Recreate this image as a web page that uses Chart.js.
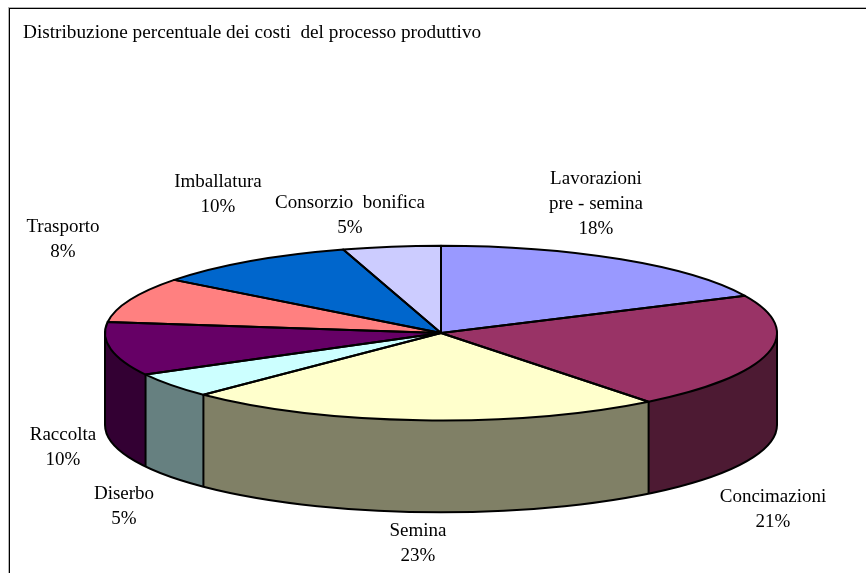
<!DOCTYPE html>
<html>
<head>
<meta charset="utf-8">
<style>html,body{margin:0;padding:0;background:#fff}canvas{display:block}</style>
<script src="https://cdn.jsdelivr.net/npm/chart.js@4"></script>
</head>
<body>
<canvas id="c" width="866" height="573"></canvas>
<script>
const chartTitle = "Distribuzione percentuale dei costi  del processo produttivo";
const categories = ["Lavorazioni\npre - semina", "Concimazioni", "Semina", "Diserbo", "Raccolta", "Trasporto", "Imballatura", "Consorzio  bonifica"];
const costShare = [18.0, 21.4, 23.1, 4.6, 9.9, 8.4, 9.9, 4.7];
const topColors = ["#9999FF", "#993366", "#FFFFCC", "#CCFFFF", "#660066", "#FF8080", "#0066CC", "#CCCCFF"];
const sideColors = ["#4D4D80", "#4D1A33", "#808066", "#668080", "#330033", "#804040", "#003366", "#666680"];

/* layout of the 3D projection and of the label blocks (centre x, first line y) */
const view = { cx: 441, cy: 333, rx: 336, squash: 0.26, depth: 92 };
const labelAnchors = [[596, 179], [773, 497], [418, 531], [124, 494], [63, 435], [63, 227], [218, 182], [350, 203]];
const LINE = 25;
const FONT = '19px "Liberation Serif"';
const TITLE_FONT = '19.25px "Liberation Serif"';

const total = costShare.reduce((a, b) => a + b, 0);

function project(ctx, el) {
  ctx.translate(view.cx, view.cy);
  ctx.scale(1, view.squash);
  ctx.translate(-el.x, -el.y);
}

const pie3d = {
  id: 'pie3d',
  beforeDraw(chart) {
    const { ctx, width, height } = chart;
    ctx.save();
    ctx.fillStyle = '#fff';
    ctx.fillRect(0, 0, width, height);
    ctx.fillStyle = '#b4b4b4';
    ctx.fillRect(8, 7, width - 8, 1);
    ctx.fillRect(8, 7, 1, height - 7);
    ctx.fillStyle = '#000';
    ctx.fillRect(9, 8, width - 9, 1);
    ctx.fillRect(9, 8, 1, height - 8);
    ctx.restore();
  },
  beforeDatasetsDraw(chart) {
    const { ctx } = chart;
    const arcs = chart.getDatasetMeta(0).data;
    const { cx, cy, rx, squash, depth } = view;
    const ry = rx * squash;
    // front wall of each slice, from the slice angles the library computed
    arcs.forEach((el, i) => {
      const a0 = Math.max(el.startAngle, 0), a1 = Math.min(el.endAngle, Math.PI);
      if (a1 <= a0) return;
      ctx.beginPath();
      ctx.ellipse(cx, cy, rx, ry, 0, a0, a1);
      ctx.ellipse(cx, cy + depth, rx, ry, 0, a1, a0, true);
      ctx.closePath();
      ctx.fillStyle = sideColors[i];
      ctx.fill();
    });
    ctx.save();
    project(ctx, arcs[0]);
  },
  afterDatasetsDraw(chart) {
    const { ctx } = chart;
    ctx.restore();
    const arcs = chart.getDatasetMeta(0).data;
    const { cx, cy, rx, squash, depth } = view;
    const ry = rx * squash;
    ctx.save();
    ctx.strokeStyle = '#000';
    ctx.lineWidth = 2;
    ctx.lineJoin = 'round';
    // side edges
    const wrap = a => Math.atan2(Math.sin(a), Math.cos(a));
    arcs.forEach(el => {
      const a = wrap(el.startAngle);
      if (a > 0 && a < Math.PI) {
        const x = cx + rx * Math.cos(a), y = cy + ry * Math.sin(a);
        ctx.beginPath(); ctx.moveTo(x, y); ctx.lineTo(x, y + depth); ctx.stroke();
      }
    });
    ctx.beginPath();
    ctx.moveTo(cx + rx, cy); ctx.lineTo(cx + rx, cy + depth);
    ctx.moveTo(cx - rx, cy); ctx.lineTo(cx - rx, cy + depth);
    ctx.stroke();
    ctx.beginPath();
    ctx.ellipse(cx, cy + depth, rx, ry, 0, 0, Math.PI);
    ctx.stroke();
    // top face outlines
    arcs.forEach(el => {
      ctx.beginPath();
      ctx.moveTo(cx, cy);
      ctx.ellipse(cx, cy, rx, ry, 0, el.startAngle, el.endAngle);
      ctx.closePath();
      ctx.stroke();
    });
    // texts
    ctx.fillStyle = '#000';
    ctx.textBaseline = 'middle';
    ctx.textAlign = 'left';
    ctx.font = TITLE_FONT;
    ctx.fillText(chartTitle, 23, 33);
    ctx.font = FONT;
    ctx.textAlign = 'center';
    categories.forEach((name, i) => {
      const lines = name.split('\n').concat(Math.round(costShare[i] / total * 100) + '%');
      lines.forEach((t, j) => ctx.fillText(t, labelAnchors[i][0], labelAnchors[i][1] + j * LINE));
    });
    ctx.restore();
  }
};

new Chart(document.getElementById('c'), {
  type: 'pie',
  data: {
    labels: categories,
    datasets: [{
      data: costShare,
      backgroundColor: topColors,
      borderWidth: 0,
      radius: view.rx,
      clip: false
    }]
  },
  options: {
    responsive: false,
    animation: false,
    plugins: { legend: { display: false }, tooltip: { enabled: false }, title: { display: false } }
  },
  plugins: [pie3d]
});
</script>
</body>
</html>
